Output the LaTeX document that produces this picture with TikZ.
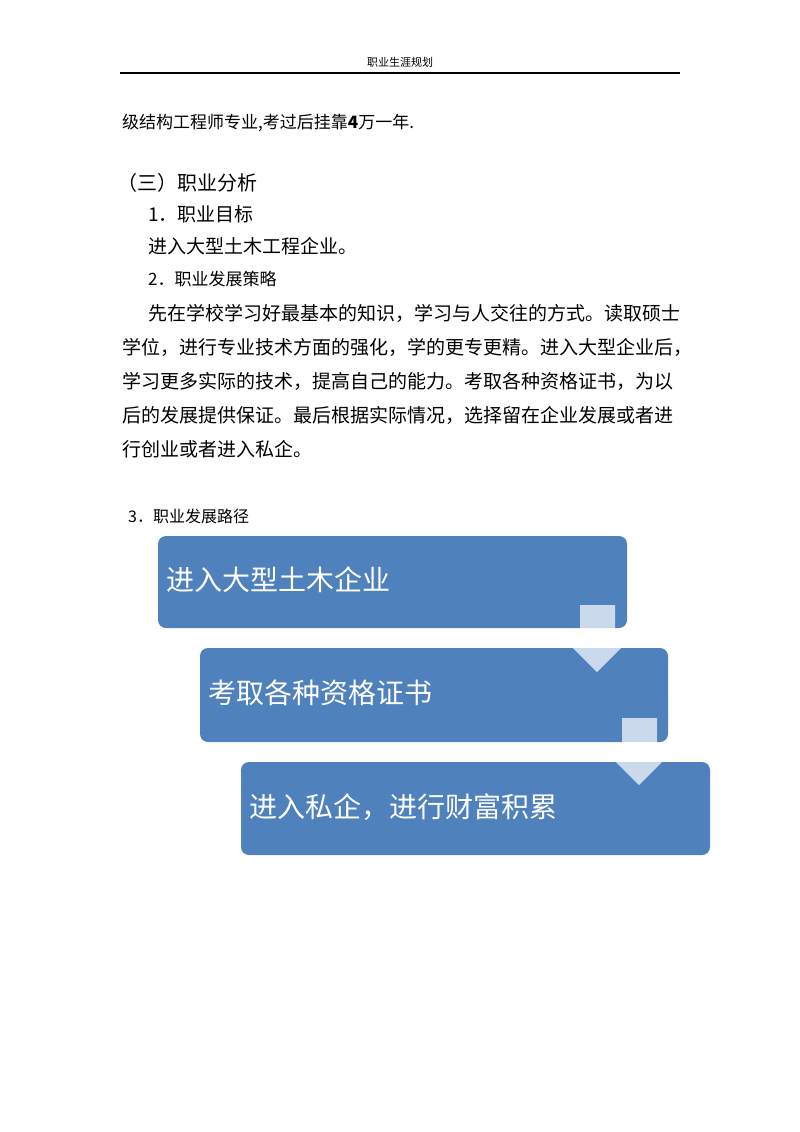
\documentclass[tikz,border=0pt]{standalone}
\usepackage{fontspec}
\newfontfamily\cjk{Noto Sans CJK SC}
\newfontfamily\cjkl{Noto Sans CJK SC Light}
\definecolor{boxblue}{HTML}{4F81BD}
\begin{document}
\begin{tikzpicture}[x=1pt,y=-1pt,
  txt/.style={anchor=west,inner sep=0pt,font=\cjk\fontsize{19}{19}\selectfont},
  box/.style={fill=boxblue,rounded corners=8pt,draw=none},
  btxt/.style={anchor=west,inner sep=0pt,text=white,font=\cjk\fontsize{28}{28}\selectfont},
  arr/.style={fill=white,fill opacity=0.7,draw=none}]
\useasboundingbox (0,0) rectangle (800,1132);
\fill[white] (0,0) rectangle (800,1132);
\node[inner sep=0pt,font=\cjk\fontsize{11}{11}\selectfont] (hd) at (400,62) {职业生涯规划};
\draw[line width=1pt] (120,73) coordinate (l1) -- (680,73) coordinate (l2);
\node[txt,font=\cjk\fontsize{17}{17}\selectfont] (t0) at (122,123) {级结构工程师专业,考过后挂靠\textbf{4}万一年.};
\node[txt,font=\cjk\fontsize{20}{20}\selectfont] (t1) at (117,183) {（三）职业分析};
\node[txt] (t2) at (148,214) {1．职业目标};
\node[txt] (t3) at (148,246) {进入大型土木工程企业。};
\node[txt,font=\cjk\fontsize{17}{17}\selectfont] (t4) at (148,279) {2．职业发展策略};
\node[txt] (p1) at (148,313) {先在学校学习好最基本的知识，学习与人交往的方式。读取硕士};
\node[txt] (p2) at (122,347) {学位，进行专业技术方面的强化，学的更专更精。进入大型企业后，};
\node[txt] (p3) at (122,381) {学习更多实际的技术，提高自己的能力。考取各种资格证书，为以};
\node[txt] (p4) at (122,415) {后的发展提供保证。最后根据实际情况，选择留在企业发展或者进};
\node[txt] (p5) at (122,449) {行创业或者进入私企。};
\node[txt,font=\cjk\fontsize{16}{16}\selectfont] (t5) at (128,516) {3．职业发展路径};
% boxes
\fill[box] (158,536) rectangle (627,628);
\node[btxt] (b1) at (166,580) {进入大型土木企业};
\fill[box] (200,648) rectangle (668,742);
\node[btxt] (b2) at (208,693) {考取各种资格证书};
\fill[box] (241,762) rectangle (710,855);
\node[btxt] (b3) at (249,807) {进入私企，进行财富积累};
% arrows
\fill[arr] (580,605) -- (615,605) -- (615,640) -- (629,640) -- (597,672) -- (565,640) -- (580,640) -- cycle;
\fill[arr] (622,718) -- (657,718) -- (657,753) -- (671,753) -- (639,785) -- (607,753) -- (622,753) -- cycle;
\end{tikzpicture}
\end{document}
